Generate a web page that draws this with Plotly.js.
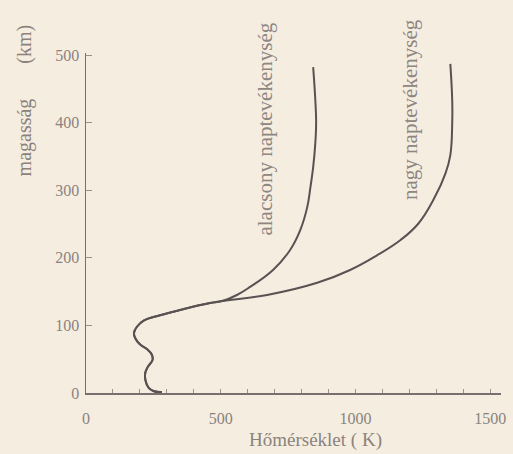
<!DOCTYPE html>
<html>
<head>
<meta charset="utf-8">
<script src="https://cdn.plot.ly/plotly-3.0.1.min.js"></script>
<style>html,body{margin:0;padding:0;background:#f6ede1;}</style>
</head>
<body>
<div id="chart" style="width:513px;height:454px;"></div>
<script>
// Lower atmosphere (shared by both curves): temperature (K) and altitude (km)
const lowerT = [282, 250, 232, 221, 220, 230, 247, 244, 226, 200, 183, 178, 189, 214, 275, 360, 460, 505];
const lowerH = [1, 3, 8, 18, 30, 39, 49, 57, 65, 72, 81, 89, 98, 107, 115, 124, 133, 136];
// Thermosphere, low solar activity
const lowT = [560, 609, 694, 758, 795, 821, 833, 843, 851, 854, 851, 843];
const lowH = [145, 157, 182, 212, 241, 275, 305, 334, 370, 400, 433, 482];
// Thermosphere, high solar activity
const highT = [672, 858, 980, 1081, 1166, 1232, 1292, 1334, 1352, 1359, 1359, 1352];
const highH = [145, 163, 182, 204, 226, 250, 288, 325, 352, 400, 433, 487];

const xTicks = [0, 500, 1000, 1500];
const yTicks = [0, 100, 200, 300, 400, 500];
const labelLow = 'alacsony naptevékenység';
const labelHigh = 'nagy naptevékenység';
const xTitle = 'Hőmérséklet ( K)';
const yTitle = 'magasság\u00a0\u00a0\u00a0\u00a0\u00a0\u00a0\u00a0(km)';

const lineStyle = {color: '#5a5152', width: 2, shape: 'spline', smoothing: 1.2};
const traces = [
  {x: lowerT.concat(lowT), y: lowerH.concat(lowH), mode: 'lines', line: lineStyle, hoverinfo: 'skip'},
  {x: lowerT.concat(highT), y: lowerH.concat(highH), mode: 'lines', line: lineStyle, hoverinfo: 'skip'}
];

const txtColor = '#8a837d';
const serif = 'Liberation Serif, Times New Roman, serif';
const layout = {
  width: 513, height: 454,
  margin: {l: 86, r: 12, t: 53, b: 61},
  paper_bgcolor: '#f6ede1', plot_bgcolor: '#f6ede1',
  showlegend: false,
  font: {family: serif, color: txtColor},
  xaxis: {
    range: [0, 1540], showgrid: false, zeroline: false,
    showline: true, linecolor: '#7a6e6e', linewidth: 1.5,
    tickmode: 'array', tickvals: xTicks, ticktext: xTicks.map(String),
    ticks: 'inside', ticklen: 4, tickcolor: '#9a9090', tickwidth: 1,
    minor: {tickmode: 'linear', tick0: 0, dtick: 100, ticks: 'inside', ticklen: 4, tickcolor: '#9a9090', tickwidth: 1},
    tickfont: {family: serif, size: 16, color: txtColor},
    ticklabelstandoff: 10
  },
  yaxis: {
    range: [0, 503], showgrid: false, zeroline: false,
    showline: true, linecolor: '#7a6e6e', linewidth: 1.5,
    tickmode: 'array', tickvals: yTicks, ticktext: yTicks.map(String),
    ticks: 'inside', ticklen: 6, tickcolor: '#9a9090', tickwidth: 1,
    tickfont: {family: serif, size: 16, color: txtColor},
    ticklabelstandoff: 2
  },
  annotations: [
    {text: labelLow, x: 665, y: 390, xref: 'x', yref: 'y', textangle: -90, showarrow: false,
     font: {family: serif, size: 21, color: '#8d8681'}},
    {text: labelHigh, x: 1203, y: 419, xref: 'x', yref: 'y', textangle: -90, showarrow: false,
     font: {family: serif, size: 21, color: '#8d8681'}},
    {text: xTitle, x: 0.552, y: -0.139, xref: 'paper', yref: 'paper', showarrow: false,
     xanchor: 'center', yanchor: 'middle', font: {family: serif, size: 19, color: txtColor}},
    {text: yTitle, x: -0.149, y: 0.861, xref: 'paper', yref: 'paper', showarrow: false, textangle: -90,
     xanchor: 'center', yanchor: 'middle', font: {family: serif, size: 20, color: txtColor}}
  ]
};

Plotly.newPlot('chart', traces, layout, {displayModeBar: false, staticPlot: true});
</script>
</body>
</html>
